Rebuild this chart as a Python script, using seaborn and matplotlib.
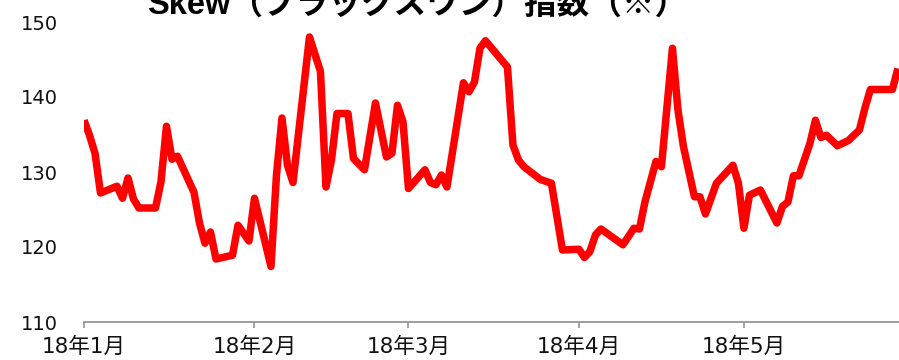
import matplotlib
matplotlib.use("Agg")
import matplotlib.pyplot as plt
import pandas as pd
import seaborn as sns

# SKEW index, 2018 (daily readings)
dates = [
    "2018-01-01", "2018-01-02", "2018-01-03", "2018-01-04", "2018-01-07",
    "2018-01-08", "2018-01-09", "2018-01-10", "2018-01-11", "2018-01-14",
    "2018-01-15", "2018-01-16", "2018-01-17", "2018-01-18", "2018-01-21",
    "2018-01-22", "2018-01-23", "2018-01-24", "2018-01-25", "2018-01-28",
    "2018-01-29", "2018-01-31", "2018-02-01", "2018-02-04", "2018-02-05",
    "2018-02-06", "2018-02-07", "2018-02-08", "2018-02-11", "2018-02-13",
    "2018-02-14", "2018-02-15", "2018-02-16", "2018-02-18", "2018-02-19",
    "2018-02-21", "2018-02-23", "2018-02-25", "2018-02-26", "2018-02-27",
    "2018-02-28", "2018-03-01", "2018-03-04", "2018-03-05", "2018-03-06",
    "2018-03-07", "2018-03-08", "2018-03-11", "2018-03-12", "2018-03-13",
    "2018-03-14", "2018-03-15", "2018-03-19", "2018-03-20", "2018-03-21",
    "2018-03-22", "2018-03-25", "2018-03-27", "2018-03-29", "2018-04-01",
    "2018-04-02", "2018-04-03", "2018-04-04", "2018-04-05", "2018-04-09",
    "2018-04-11", "2018-04-12", "2018-04-13", "2018-04-15", "2018-04-16",
    "2018-04-18", "2018-04-19", "2018-04-20", "2018-04-22", "2018-04-23",
    "2018-04-24", "2018-04-26", "2018-04-29", "2018-04-30", "2018-05-01",
    "2018-05-02", "2018-05-04", "2018-05-07", "2018-05-08", "2018-05-09",
    "2018-05-10", "2018-05-11", "2018-05-13", "2018-05-14", "2018-05-15",
    "2018-05-16", "2018-05-18", "2018-05-20", "2018-05-22", "2018-05-23",
    "2018-05-24", "2018-05-28", "2018-05-29",
]
skew = [
    136.9, 134.9, 132.5, 127.2, 128.1,
    126.5, 129.2, 126.4, 125.2, 125.2,
    128.7, 136.1, 131.7, 132.1, 127.3,
    123.2, 120.5, 122.0, 118.4, 118.9,
    122.9, 120.8, 126.5, 117.4, 129.6,
    137.2, 130.9, 128.6, 148.0, 143.4,
    128.0, 131.6, 137.8, 137.8, 131.8,
    130.3, 139.2, 132.0, 132.5, 138.9,
    136.7, 127.8, 130.3, 128.6, 128.3,
    129.6, 128.0, 141.9, 140.7, 142.0,
    146.5, 147.5, 144.0, 133.6, 131.6,
    130.7, 129.0, 128.5, 119.6, 119.7,
    118.6, 119.4, 121.6, 122.4, 120.3,
    122.5, 122.4, 126.0, 131.4, 130.7,
    146.5, 138.3, 133.4, 126.7, 126.7,
    124.4, 128.5, 130.9, 128.5, 122.5,
    126.9, 127.6, 123.2, 125.4, 126.0,
    129.5, 129.5, 133.8, 136.9, 134.6,
    134.9, 133.5, 134.2, 135.6, 138.5,
    141.0, 141.0, 143.8,
]
month_ticks = ["2018-01-01", "2018-02-01", "2018-03-01", "2018-04-01", "2018-05-01"]
month_labels = ["18年1月", "18年2月", "18年3月", "18年4月", "18年5月"]
y_ticks = [110, 120, 130, 140, 150]
title = "Skew（ブラックスワン）指数（※）"

sns.set_theme(style="white")
plt.rcParams["font.family"] = ["DejaVu Sans", "Noto Sans CJK JP"]

df = pd.DataFrame({"date": pd.to_datetime(dates), "skew": skew})

fig = plt.figure(figsize=(8.99, 3.6), dpi=100)
ax = fig.add_axes([84 / 899, 38 / 360, 1 - 84 / 899, 300 / 360])

sns.lineplot(data=df, x="date", y="skew", ax=ax, color="#ff0000",
             linewidth=5.4, solid_joinstyle="round", solid_capstyle="butt")

start = pd.Timestamp("2018-01-01")
ax.set_xlim(start, start + pd.Timedelta(days=148.2))
ax.set_ylim(110, 150)

ax.set_xticks(pd.to_datetime(month_ticks))
ax.set_xticklabels(month_labels, fontsize=15.5,
                   family=["DejaVu Sans", "Noto Sans CJK JP"], color="#111111")
ax.set_yticks(y_ticks)
ax.set_yticklabels([str(v) for v in y_ticks], fontsize=14, color="#111111")

ax.tick_params(axis="x", which="major", direction="out", length=4.5, width=1.1,
               color="#8c8c8c", pad=6, bottom=True)
ax.tick_params(axis="y", length=0, pad=19)

for side in ("top", "right", "left"):
    ax.spines[side].set_visible(False)
ax.spines["bottom"].set_color("#8c8c8c")
ax.spines["bottom"].set_linewidth(1.2)
ax.set_xlabel("")
ax.set_ylabel("")
ax.grid(False)

fig.text(417 / 899, 1 - 13.5 / 360, title, ha="center", va="baseline",
         fontsize=23.5, fontweight="bold", color="black",
         family=["Liberation Sans", "Noto Sans CJK JP"])

fig.savefig("out.png", dpi=100)
